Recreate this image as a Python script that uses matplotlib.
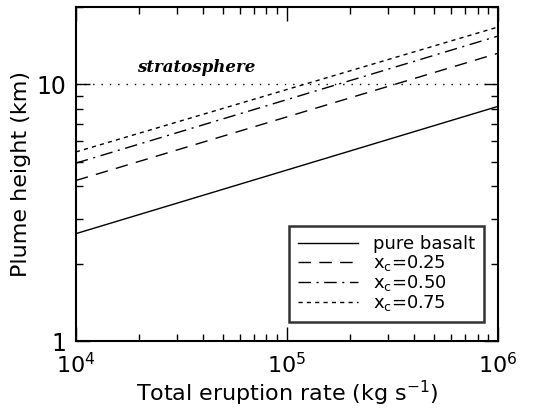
import numpy as np
import matplotlib.pyplot as plt
from matplotlib.ticker import LogLocator, NullFormatter, FixedLocator, FixedFormatter

# eruption rate (kg/s) end points, lines are straight in log-log
rate = [1e4, 1e6]
h_basalt = [2.62, 8.2]
h_025 = [4.22, 13.2]
h_050 = [4.93, 15.4]
h_075 = [5.45, 16.7]
strat_h = 10.0

plt.rcParams['font.family'] = ['DejaVu Sans']
plt.rcParams['mathtext.fontset'] = 'dejavusans'

fig = plt.figure(figsize=(5.46, 4.08), dpi=100)
ax = fig.add_axes([0.139, 0.164, 0.773, 0.819])

ax.plot(rate, h_basalt, color='k', lw=1.0, ls='-', label='pure basalt')
ax.plot(rate, h_025, color='k', lw=1.0, ls=(0, (9, 6)), label='x$_\\mathrm{c}$=0.25')
ax.plot(rate, h_050, color='k', lw=1.0, ls=(0, (9, 4, 1.5, 4)), label='x$_\\mathrm{c}$=0.50')
ax.plot(rate, h_075, color='k', lw=1.0, ls=(0, (3, 3)), label='x$_\\mathrm{c}$=0.75')
ax.plot(rate, [strat_h, strat_h], color='k', lw=1.0, ls=(0, (1, 5)))

ax.text(1.95e4, 11.6, 'stratosphere', fontsize=12, family='DejaVu Serif',
        style='italic', fontweight='bold', ha='left', va='center')

ax.set_xscale('log')
ax.set_yscale('log')
ax.set_xlim(1e4, 1e6)
ax.set_ylim(1, 20)

ax.yaxis.set_major_locator(FixedLocator([1, 10]))
ax.yaxis.set_major_formatter(FixedFormatter(['1', '10']))
ax.yaxis.set_minor_locator(LogLocator(base=10, subs=np.arange(2, 10)))
ax.yaxis.set_minor_formatter(NullFormatter())
ax.xaxis.set_minor_locator(LogLocator(base=10, subs=np.arange(2, 10)))
ax.xaxis.set_minor_formatter(NullFormatter())

ax.tick_params(which='both', direction='in', top=True, right=True, width=1.0)
ax.tick_params(axis='x', labelsize=16, pad=8)
ax.tick_params(axis='y', labelsize=17, pad=7)
ax.tick_params(which='major', length=10)
ax.tick_params(which='minor', length=5)
for s in ax.spines.values():
    s.set_linewidth(1.5)

ax.set_xlabel('Total eruption rate (kg s$^{-1}$)', fontsize=16, labelpad=1)
ax.set_ylabel('Plume height (km)', fontsize=16, labelpad=4)

leg = ax.legend(loc='lower right', fontsize=13, frameon=True, fancybox=False,
                edgecolor='k', handlelength=3.3, handletextpad=0.85,
                labelspacing=0.0, borderpad=0.5, borderaxespad=0,
                bbox_to_anchor=(0.967, 0.057))
leg.get_frame().set_linewidth(1.8)

fig.savefig('out.png', dpi=100)
